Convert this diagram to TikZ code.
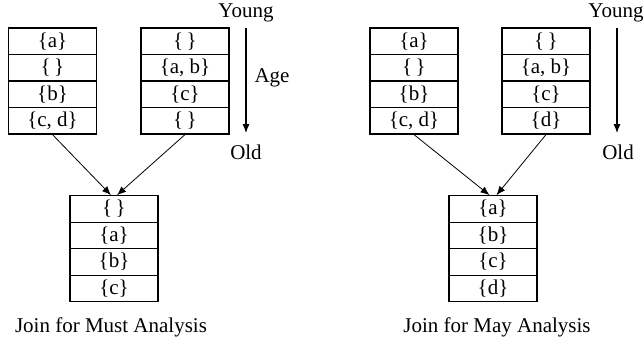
\documentclass[tikz,border=0pt]{standalone}
\usepackage{fontspec}
\setmainfont{Liberation Serif}
\usetikzlibrary{arrows.meta}

\begin{document}
\begin{tikzpicture}[x=0.5pt,y=-0.5pt
    , every node/.style={inner sep=1pt}
    , cell/.style={draw,line width=0.6pt,minimum width=44pt,minimum height=13.25pt,inner sep=0pt}
    , tip/.style={-{Latex[length=4.5pt,width=3.6pt]}}
]
    \fontsize{10.5}{12}\selectfont
    \useasboundingbox (0,0) rectangle (644,343);

    % Must analysis: the two caches and their join
    \foreach \t[count=\i] in {\{a\},\{\,\},\{b\},{\{c, d\}}}
        \node[cell] (musta\i) at (52.5,14.75+26.5*\i) {\t};
    \foreach \t[count=\i] in {\{\,\},{\{a, b\}},\{c\},\{\,\}}
        \node[cell] (mustb\i) at (185,14.75+26.5*\i) {\t};
    \foreach \t[count=\i] in {\{\,\},\{a\},\{b\},\{c\}}
        \node[cell] (mustj\i) at (114,182.5+26.5*\i) {\t};

    \draw[tip] (musta4.south) -- ([xshift=-1.5pt]mustj1.north);
    \draw[tip] (mustb4.south) -- ([xshift=1.5pt]mustj1.north);
    \node (mustcap) at (111,327) {Join for Must Analysis};

    % May analysis
    \foreach \t[count=\i] in {\{a\},\{\,\},\{b\},{\{c, d\}}}
        \node[cell] (maya\i) at (414,14.75+26.5*\i) {\t};
    \foreach \t[count=\i] in {\{\,\},{\{a, b\}},\{c\},\{d\}}
        \node[cell] (mayb\i) at (546,14.75+26.5*\i) {\t};
    \foreach \t[count=\i] in {\{a\},\{b\},\{c\},\{d\}}
        \node[cell] (mayj\i) at (493,182.5+26.5*\i) {\t};

    \draw[tip] (maya4.south) -- ([xshift=-1.75pt]mayj1.north);
    \draw[tip] (mayb4.south) -- ([xshift=1.75pt]mayj1.north);
    \node (maycap) at (497,327) {Join for May Analysis};

    % Age axes
    \coordinate (agetop1) at (246,28);
    \coordinate (agebot1) at (246,133);
    \draw[tip,line width=0.6pt] (agetop1) -- (agebot1);
    \node (young1) at (246,13) {Young};
    \node (age1) at (272,78) {Age};
    \node (old1) at (246,152) {Old};

    \coordinate (agetop2) at (617,28);
    \coordinate (agebot2) at (617,133);
    \draw[tip,line width=0.6pt] (agetop2) -- (agebot2);
    \node (young2) at (616,13) {Young};
    \node (old2) at (618,152) {Old};

\end{tikzpicture}
\end{document}
